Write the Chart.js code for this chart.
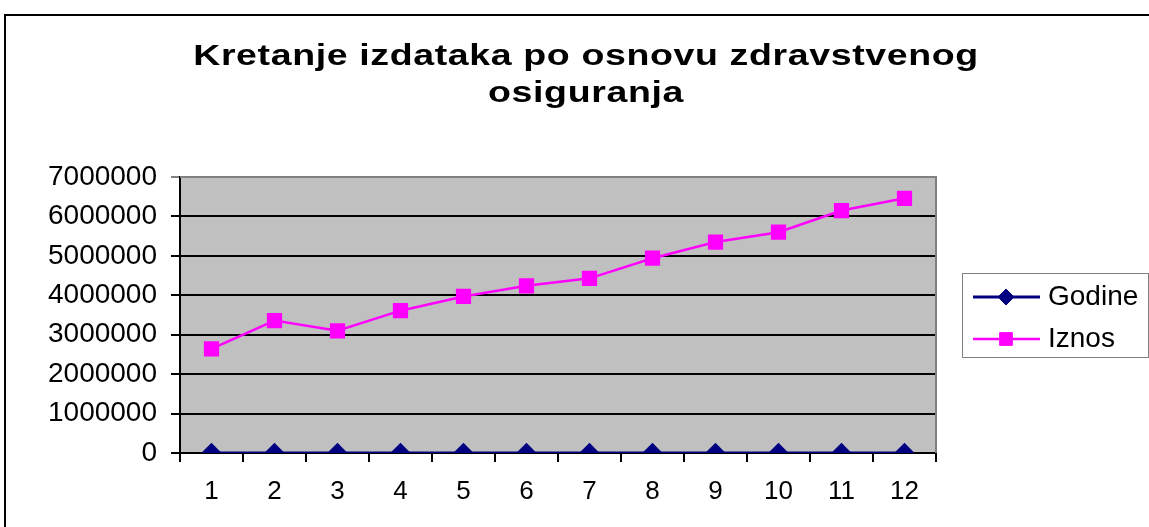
<!DOCTYPE html>
<html>
<head>
<meta charset="utf-8">
<script src="https://cdn.jsdelivr.net/npm/chart.js@4/dist/chart.umd.min.js"></script>
<style>
  html,body{margin:0;padding:0;background:#fff;}
  #chart{display:block;}
</style>
</head>
<body>
<canvas id="chart" width="1149" height="527"></canvas>
<script>
// ---- data ----
const titleLines = ["Kretanje izdataka po osnovu zdravstvenog", "osiguranja"];
const categories = ["1","2","3","4","5","6","7","8","9","10","11","12"];
const godine = [1995,1996,1997,1998,1999,2000,2001,2002,2003,2004,2005,2006];
const iznos = [2640000,3360000,3100000,3610000,3970000,4240000,4430000,4940000,5350000,5600000,6150000,6460000];
const yMin = 0, yMax = 7000000, yStep = 1000000;

const FONT = '"Liberation Sans", Arial, sans-serif';

// gray plot background, frame, gray top/right border
const backdrop = {
  id:'backdrop',
  beforeDraw(c){
    const {ctx, chartArea:a} = c;
    ctx.save();
    ctx.fillStyle = '#fff';
    ctx.fillRect(0,0,c.width,c.height);
    ctx.strokeStyle = '#000';
    ctx.lineWidth = 2;
    ctx.strokeRect(5,15,c.width+20,c.height+20);
    ctx.fillStyle = '#c0c0c0';
    ctx.fillRect(a.left,a.top,a.right-a.left,a.bottom-a.top);
    ctx.restore();
  },
  beforeDatasetsDraw(c){
    const {ctx, chartArea:a} = c;
    ctx.save();
    ctx.strokeStyle = '#808080';
    ctx.lineWidth = 2;
    ctx.beginPath();
    ctx.moveTo(a.left,a.top); ctx.lineTo(a.right,a.top); ctx.lineTo(a.right,a.bottom);
    ctx.stroke();
    ctx.restore();
  }
};

// title, stretched horizontally like the original
const titleDraw = {
  id:'titleDraw',
  afterDraw(c){
    const ctx = c.ctx;
    const sx = 1.25;
    ctx.save();
    ctx.font = 'bold 30px ' + FONT;
    ctx.letterSpacing = '0.5px';
    ctx.fillStyle = '#000';
    ctx.textAlign = 'center';
    ctx.textBaseline = 'alphabetic';
    ctx.translate(586,0);
    ctx.scale(sx,1);
    ctx.fillText(titleLines[0], 0, 65);
    ctx.fillText(titleLines[1], 0, 102);
    ctx.restore();
  }
};

// legend box on the right
const legendBox = {
  id:'legendBox',
  afterDraw(c){
    const ctx = c.ctx;
    ctx.save();
    ctx.fillStyle = '#fff';
    ctx.fillRect(962,273,186,84);
    ctx.strokeStyle = '#808080';
    ctx.lineWidth = 1;
    ctx.strokeRect(962.5,273.5,186,84);
    const rows = [297,339];
    c.data.datasets.forEach((ds,i)=>{
      const y = rows[i];
      ctx.strokeStyle = ds.borderColor;
      ctx.lineWidth = ds.borderWidth;
      ctx.beginPath(); ctx.moveTo(973,y); ctx.lineTo(1040,y); ctx.stroke();
      ctx.fillStyle = ds.pointBackgroundColor;
      ctx.strokeStyle = ds.pointBorderColor;
      ctx.lineWidth = 1;
      Chart.helpers.drawPoint(ctx,{pointStyle:ds.pointStyle,radius:ds.pointRadius,rotation:0,borderWidth:1},1006,y);
      ctx.fillStyle = '#000';
      ctx.font = '28px ' + FONT;
      ctx.textBaseline = 'middle';
      ctx.textAlign = 'left';
      ctx.fillText(ds.label,1048,y);
    });
    ctx.restore();
  }
};

new Chart(document.getElementById('chart'),{
  type:'line',
  data:{
    labels:categories,
    datasets:[
      {label:'Godine', data:godine, borderColor:'#000080', backgroundColor:'#000080', borderWidth:3,
       pointStyle:'rectRot', pointRadius:8, pointBackgroundColor:'#000080', pointBorderColor:'#000080', tension:0},
      {label:'Iznos', data:iznos, borderColor:'#ff00ff', backgroundColor:'#ff00ff', borderWidth:2.5,
       pointStyle:'rect', pointRadius:9, pointBackgroundColor:'#ff00ff', pointBorderColor:'#ff00ff', tension:0}
    ]
  },
  options:{
    responsive:false,
    animation:false,
    events:[],
    layout:{padding:{left:0,top:177,right:213,bottom:0}},
    plugins:{legend:{display:false}, title:{display:false}, tooltip:{enabled:false}},
    scales:{
      x:{
        offset:true,
        grid:{offset:true, drawOnChartArea:false, color:'#000', lineWidth:2, tickLength:9},
        border:{color:'#000', width:2},
        ticks:{color:'#000', font:{family:FONT, size:26}, padding:14, maxRotation:0, autoSkip:false},
        afterFit(s){ s.height = 74; }
      },
      y:{
        min:yMin, max:yMax,
        grid:{color:(ctx)=>ctx.tick && ctx.tick.value===yMax ? '#808080' : '#000', lineWidth:2, tickLength:9},
        border:{color:'#000', width:2},
        ticks:{stepSize:yStep, color:'#000', font:{family:FONT, size:28}, padding:14,
               callback:(v)=>String(v)},
        afterFit(s){ s.width = 180; }
      }
    }
  },
  plugins:[backdrop, titleDraw, legendBox]
});
</script>
</body>
</html>
